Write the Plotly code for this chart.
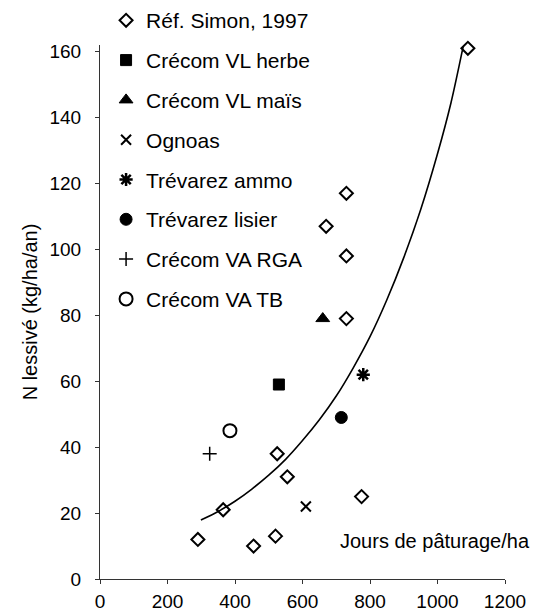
import plotly.graph_objects as go

# ---- data ----
simon_x = [290, 365, 455, 520, 525, 555, 775, 730, 730, 670, 730, 1090]
simon_y = [12, 21, 10, 13, 38, 31, 25, 79, 117, 107, 98, 161]
vl_herbe_x = [530]
vl_herbe_y = [59]
vl_mais_x = [660]
vl_mais_y = [79]
ognoas_x = [610]
ognoas_y = [22]
trev_ammo_x = [780]
trev_ammo_y = [62]
trev_lisier_x = [715]
trev_lisier_y = [49]
va_rga_x = [325]
va_rga_y = [38]
va_tb_x = [385]
va_tb_y = [45]
curve_x = [299, 350, 400, 450, 500, 550, 600, 650, 700, 750, 800, 850, 900, 950, 1000, 1040, 1076]
curve_y = [17.9, 20.5, 23.6, 27.3, 31.5, 36.3, 42, 48.3, 55.5, 64, 73.5, 84.7, 97.5, 112, 129, 144.5, 161.5]
x_ticks = [0, 200, 400, 600, 800, 1000, 1200]
y_ticks = [0, 20, 40, 60, 80, 100, 120, 140, 160]

FONT = "Liberation Sans, Arial, sans-serif"

series = [
    ("Réf. Simon, 1997", simon_x, simon_y, "diamond-open", 10, 2),
    ("Crécom VL herbe", vl_herbe_x, vl_herbe_y, "square", 11, 1),
    ("Crécom VL maïs", vl_mais_x, vl_mais_y, "triangle-up", 12, 1),
    ("Ognoas", ognoas_x, ognoas_y, "x-thin-open", 10, 2),
    ("Trévarez ammo", trev_ammo_x, trev_ammo_y, "asterisk-open", 11, 2.5),
    ("Trévarez lisier", trev_lisier_x, trev_lisier_y, "circle", 12, 1),
    ("Crécom VA RGA", va_rga_x, va_rga_y, "cross-thin-open", 10, 1.5),
    ("Crécom VA TB", va_tb_x, va_tb_y, "circle-open", 13, 2),
]

fig = go.Figure()

fig.add_trace(go.Scatter(
    x=curve_x, y=curve_y, mode="lines",
    line=dict(color="black", width=1.6, shape="spline", smoothing=0.8),
    showlegend=False, hoverinfo="skip", cliponaxis=False,
))

for i, (name, xs, ys, sym, size, lw) in enumerate(series):
    fig.add_trace(go.Scatter(
        x=xs, y=ys, mode="markers", name=name,
        legendgroup=f"g{i}",
        marker=dict(symbol=sym, size=size, color="black",
                    line=dict(color="black", width=lw)),
        cliponaxis=False,
    ))

fig.add_annotation(
    x=1.067, y=11.5, xref="paper", yref="y",
    text="Jours de pâturage/ha", showarrow=False,
    xanchor="right", yanchor="middle",
    font=dict(family=FONT, size=20, color="black"),
)

# the page body has an 8px margin, so the figure is 8px smaller than the window
fig.update_layout(
    width=531, height=604,
    margin=dict(l=92, r=34, t=37, b=33, autoexpand=False),
    paper_bgcolor="white", plot_bgcolor="white",
    font=dict(family=FONT, size=19, color="black"),
    showlegend=True,
    legend=dict(
        x=0.015, y=1.084, xanchor="left", yanchor="top",
        font=dict(family=FONT, size=21, color="black"),
        tracegroupgap=9.5, itemsizing="trace",
        bgcolor="rgba(0,0,0,0)", maxheight=600,
    ),
    xaxis=dict(
        range=[0, 1200], tickvals=x_ticks, ticktext=[str(v) for v in x_ticks],
        showgrid=False, zeroline=False, showline=True, linecolor="#333",
        linewidth=1, ticks="outside", ticklen=4, tickcolor="#333",
        ticklabelstandoff=1, automargin=False,
        tickfont=dict(family=FONT, size=19, color="black"),
    ),
    yaxis=dict(
        range=[0, 162], tickvals=y_ticks, ticktext=[str(v) for v in y_ticks],
        showgrid=False, zeroline=False, showline=True, linecolor="#333",
        linewidth=1, ticks="outside", ticklen=4, tickcolor="#333",
        ticklabelstandoff=10, automargin=False,
        tickfont=dict(family=FONT, size=19, color="black"),
        title=dict(text="N lessivé (kg/ha/an)", standoff=6,
                   font=dict(family=FONT, size=20, color="black")),
    ),
)

fig.write_html("out.html")
